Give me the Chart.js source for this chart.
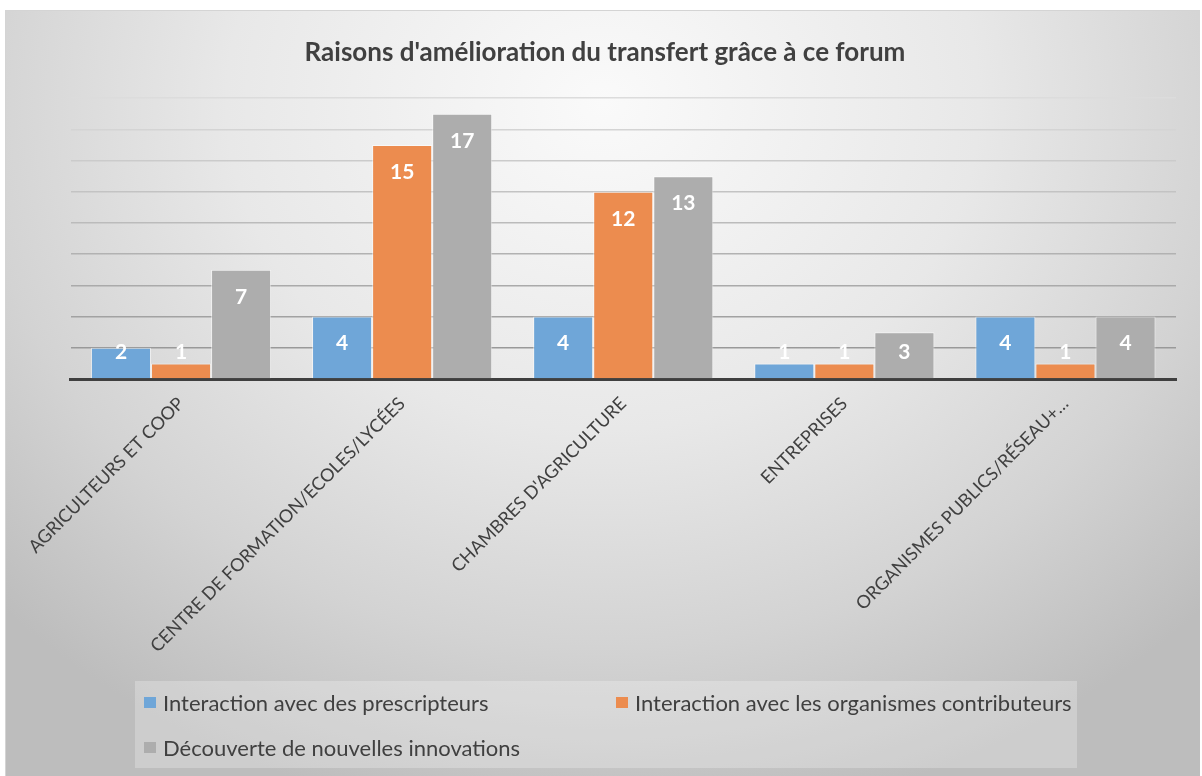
<!DOCTYPE html>
<html lang="fr">
<head>
<meta charset="utf-8">
<title>Raisons d'amélioration du transfert</title>
<script src="https://cdn.jsdelivr.net/npm/chart.js@4.4.1/dist/chart.umd.min.js"></script>
<style>
    html, body { margin: 0; padding: 0; background: #ffffff; }
    #frame {
        position: absolute;
        left: 5px; top: 10px;
        width: 1195px; height: 766px;
        box-sizing: border-box;
        border-top: 1px solid #d4d4d4;
        border-left: 1px solid #d4d4d4;
        background: radial-gradient(ellipse 70% 95% at 50% 12%, #fafafa 0%, #e8e8e8 45%, #d3d3d3 75%, #bdbdbd 100%);
    }
    #chartBox { position: absolute; left: 0; top: 0; width: 1195px; height: 766px; }
    #legend {
        position: absolute;
        left: 129px; top: 670px;
        width: 942px; height: 87px;
        background: rgba(255, 255, 255, 0.25);
        font-family: Lato, "Open Sans", sans-serif;
        font-size: 22px;
        color: #404040;
    }
    .item { position: absolute; white-space: nowrap; line-height: 26px; }
    .swatch { position: absolute; left: -19px; top: 7px; width: 12px; height: 11px; }
</style>
</head>
<body>
<div id="frame">
    <div id="chartBox"><canvas id="barChart"></canvas></div>
    <div id="legend"></div>
</div>
<script>
// --- data ---
const categories = [
    'AGRICULTEURS ET COOP',
    'CENTRE DE FORMATION/ECOLES/LYCÉES',
    "CHAMBRES D'AGRICULTURE",
    'ENTREPRISES',
    'ORGANISMES PUBLICS/RÉSEAU+…'
];
const seriesNames = [
    'Interaction avec des prescripteurs',
    'Interaction avec les organismes contributeurs',
    'Découverte de nouvelles innovations'
];
const prescripteurs = [2, 4, 4, 1, 4];
const contributeurs = [1, 15, 12, 1, 1];
const innovations = [7, 17, 13, 3, 4];
const yMax = 18;
const yStep = 2;

const colors = ['#6fa6d8', '#ec8c4f', '#adadad'];
const values = [prescripteurs, contributeurs, innovations];

// value labels inside the top of each bar, kept above the baseline for short bars
const barLabels = {
    id: 'barLabels',
    afterDatasetsDraw(chart) {
        const ctx = chart.ctx;
        ctx.save();
        ctx.font = 'bold 21px Lato, "Open Sans", sans-serif';
        ctx.fillStyle = '#ffffff';
        ctx.textAlign = 'center';
        ctx.textBaseline = 'middle';
        chart.data.datasets.forEach((ds, i) => {
            chart.getDatasetMeta(i).data.forEach((bar, j) => {
                const y = Math.min(bar.y + 27, bar.base - 26);
                ctx.fillText(String(ds.data[j]), bar.x, y);
            });
        });
        ctx.restore();
    }
};

const ctx = document.getElementById('barChart').getContext('2d');
const chart = new Chart(ctx, {
    type: 'bar',
    data: {
        labels: categories,
        datasets: seriesNames.map((name, i) => ({
            label: name,
            data: values[i],
            backgroundColor: colors[i],
            borderColor: 'rgba(255,255,255,0.55)',
            borderWidth: 1,
            categoryPercentage: 0.815,
            barPercentage: 1.0
        }))
    },
    options: {
        responsive: true,
        maintainAspectRatio: false,
        animation: false,
        layout: {
            padding: { left: 28, right: 25, top: 0, bottom: 0 }
        },
        plugins: {
            legend: { display: false },
            tooltip: { enabled: false },
            title: {
                display: true,
                text: "Raisons d'amélioration du transfert grâce à ce forum",
                color: '#404040',
                font: { family: 'Lato', size: 26, weight: 'bold' },
                padding: { top: 26, bottom: 30 }
            }
        },
        scales: {
            x: {
                grid: { display: false, drawTicks: false },
                border: { display: true, color: '#3f3f3f', width: 3 },
                ticks: {
                    autoSkip: false,
                    minRotation: 45,
                    maxRotation: 45,
                    padding: 14,
                    color: '#404040',
                    font: { family: 'Lato', size: 18 }
                },
                afterFit(scale) {
                    scale.height = 398;
                }
            },
            y: {
                min: 0,
                max: yMax,
                ticks: { display: false, stepSize: yStep },
                border: { display: false },
                afterFit(scale) {
                    scale.width = 36.5;
                },
                grid: {
                    drawTicks: false,
                    lineWidth: 1.5,
                    color: c => {
                        // gridlines fade lighter toward the top, like the reference
                        const t = c.tick ? c.tick.value / yMax : 0;
                        const g = Math.round(145 + 75 * t);
                        return `rgb(${g},${g},${g})`;
                    }
                }
            }
        }
    },
    plugins: [barLabels]
});

// legend built from the same series arrays, two columns like the reference
const legend = document.getElementById('legend');
seriesNames.forEach((name, i) => {
    const item = document.createElement('div');
    item.className = 'item';
    item.style.left = (i % 2 === 0 ? 28 : 500) + 'px';
    item.style.top = (9 + Math.floor(i / 2) * 45) + 'px';
    const sw = document.createElement('span');
    sw.className = 'swatch';
    sw.style.background = colors[i];
    item.appendChild(sw);
    item.appendChild(document.createTextNode(name));
    legend.appendChild(item);
});
</script>
</body>
</html>
